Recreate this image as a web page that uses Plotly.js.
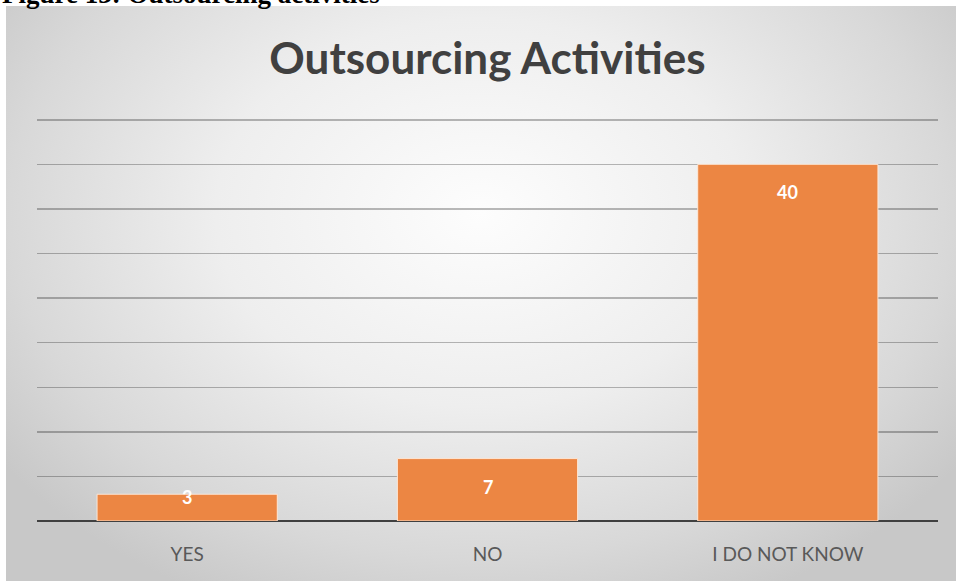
<!DOCTYPE html>
<html>
<head>
<meta charset="utf-8">
<script src="https://cdn.plot.ly/plotly-3.0.1.min.js"></script>
<style>
  html, body { margin:0; padding:0; background:#ffffff; }
  #wrap { position:relative; width:956px; height:581px; overflow:hidden; }
  #bg { position:absolute; left:6px; top:6px; width:950px; height:575px;
        background: radial-gradient(ellipse 62% 75% at 50% 36%, #fdfdfd 0%, #eeeeee 45%, #d8d8d8 80%, #c8c8c8 100%); }
  #chart { position:absolute; left:0; top:0; width:956px; height:581px; }
</style>
</head>
<body>
<div id="wrap">
  <div id="bg"></div>
  <div id="chart"></div>
</div>
<script>
const categories = ["YES", "NO", "I DO NOT KNOW"];
const counts = [3, 7, 40];
const chartTitle = "Outsourcing Activities";
const caption = "Figure 13: Outsourcing activities";

const W = 956, H = 581;
const mL = 37, mR = 18, mT = 118, mB = 60;
const yMax = 45.2;
const plotH = H - mT - mB;
const pxPerUnit = plotH / yMax;

const labelAnns = categories.map((c, i) => {
  const h = counts[i] * pxPerUnit;
  return {
    x: c, y: counts[i], xref: 'x', yref: 'y',
    text: '<b>' + String(counts[i]) + '</b>', showarrow: false,
    yanchor: 'middle', yshift: -Math.min(28, h - 24),
    font: {family: 'Lato, "Open Sans", sans-serif', size: 18, color: '#ffffff'}
  };
});

const captionAnn = {
  xref: 'paper', yref: 'paper',
  x: (0 - mL) / (W - mL - mR), xanchor: 'left',
  y: 1 + (mT - 11) / plotH, yanchor: 'bottom',
  text: '<b>' + caption + '</b>', showarrow: false,
  font: {family: '"Liberation Serif", "Times New Roman", serif', size: 27, color: '#000000'}
};

const trace = {
  type: 'bar', x: categories, y: counts,
  marker: {color: '#EC8643', line: {color: 'rgba(255,235,220,0.9)', width: 1}},
  hoverinfo: 'none'
};

const layout = {
  width: W, height: H,
  margin: {l: mL, r: mR, t: mT, b: mB, pad: 0},
  paper_bgcolor: 'rgba(0,0,0,0)', plot_bgcolor: 'rgba(0,0,0,0)',
  bargap: 0.4,
  showlegend: false,
  title: {
    text: '<b>' + chartTitle + '</b>',
    font: {family: 'Lato, "Open Sans", sans-serif', size: 44, color: '#404040'},
    xref: 'paper', x: 0.5, xanchor: 'center',
    yref: 'container', y: 1 - 59 / H, yanchor: 'middle'
  },
  xaxis: {
    type: 'category', showgrid: false, showline: false, zeroline: false,
    ticks: 'outside', ticklen: 16, tickcolor: 'rgba(0,0,0,0)',
    tickfont: {family: 'Lato, "Open Sans", sans-serif', size: 19, color: '#595959'},
    automargin: false
  },
  yaxis: {
    range: [0, yMax], dtick: 5, showticklabels: false, ticks: '',
    showgrid: true, gridcolor: 'rgba(0,0,0,0.27)', gridwidth: 1.5,
    zeroline: true, zerolinecolor: '#404040', zerolinewidth: 2.5,
    showline: false, automargin: false
  },
  annotations: labelAnns.concat([captionAnn])
};

Plotly.newPlot('chart', [trace], layout, {staticPlot: true, displayModeBar: false});
</script>
</body>
</html>
